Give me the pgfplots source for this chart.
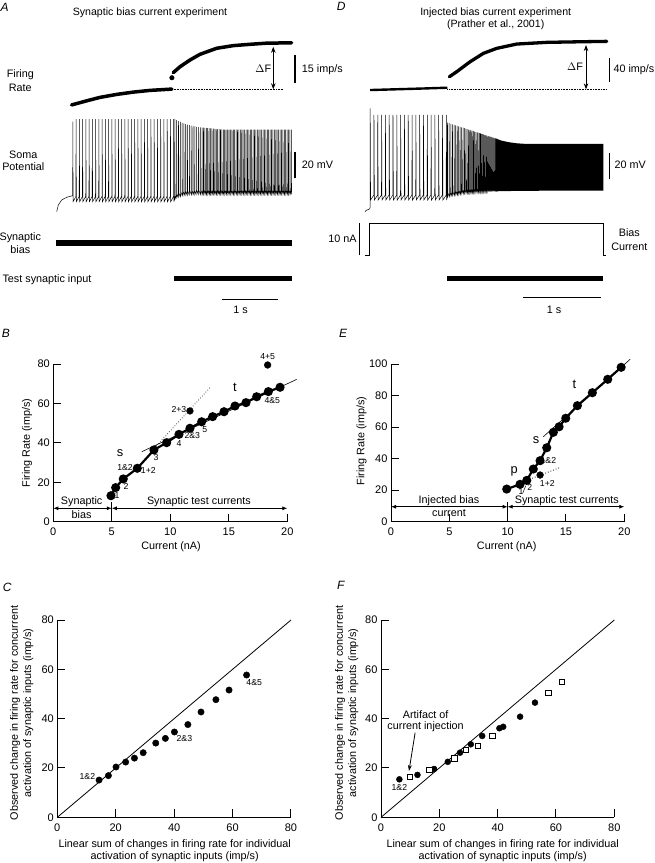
\documentclass[border=0pt]{standalone}
\usepackage{pgfplots}
\pgfplotsset{compat=1.18}
\usepackage{fontspec}
\setmainfont{Liberation Sans}
\usetikzlibrary{arrows.meta}
\newcommand{\fs}[1]{\fontsize{#1}{#1}\selectfont}
\pgfplotsset{
 trace/.style={hide axis, scale only axis, clip=false, anchor=south west},
 panel/.style={scale only axis, anchor=south west, axis lines*=left, tick align=inside,
   major tick length=8pt, axis line style={line width=1pt},
   tick style={line width=1pt, black},
   tick label style={font=\fs{11}}, xticklabel style={yshift=-3pt},
   /pgf/number format/assume math mode=true, clip=false},
}
\begin{document}
\begin{tikzpicture}
\path[use as bounding box] (0,0) rectangle (654pt,-863pt);

% ================= A : firing rate =================
\begin{axis}[trace, at={(55.7pt,-126.1pt)}, width=238.1pt, height=103.9pt,
  xmin=-0.3, xmax=3.9, ymin=0, ymax=55]
\addplot[line width=3.5pt, line cap=round] coordinates {(-0.02,11.2)(0.25,13.4)(0.48,15.2)(0.78,16.8)(1.07,18.0)(1.36,18.9)(1.75,19.6)};
\addplot[only marks, mark=*, mark size=2.3pt] coordinates {(1.75,25.6)};
\addplot[line width=3.5pt, line cap=round] coordinates {(1.774,28.3)(1.892,31.4)(2.069,35.0)(2.245,38.0)(2.54,41.2)(2.832,42.6)(3.127,43.3)(3.42,43.9)(3.862,44.1)};
\addplot[densely dotted, line width=0.6pt] coordinates {(1.75,19.5)(3.709,19.5)};
\draw[{Stealth[length=6pt,width=4.5pt]}-{Stealth[length=6pt,width=4.5pt]}, line width=0.9pt] (axis cs:3.538,42.0) -- (axis cs:3.538,19.5);
\addplot[line width=1.1pt] coordinates {(3.921,22.6)(3.921,37.6)};
\end{axis}

% ================= A : soma potential =================
\begin{axis}[trace, at={(55.7pt,-235pt)}, width=238.1pt, height=133.3pt,
  xmin=-0.3, xmax=3.9, ymin=-80, ymax=20]
\addplot[line width=0.5pt] coordinates {
(-0.282,-62.5)(-0.254,-57.5)(-0.194,-53.7)(-0.106,-51.7)(-0.018,-50.7)
(0,-50.5)(0.002,5)(0.007,-55)
(0.057,-51)(0.059,7)(0.064,-55)
(0.115,-51)(0.117,7)(0.122,-55)
(0.172,-51)(0.174,7)(0.179,-55)
(0.230,-51)(0.232,7)(0.237,-55)
(0.287,-51)(0.289,7)(0.294,-55)
(0.344,-51)(0.346,7)(0.351,-55)
(0.402,-51)(0.404,7)(0.409,-55)
(0.459,-51)(0.461,7)(0.466,-55)
(0.517,-51)(0.519,7)(0.524,-55)
(0.574,-51)(0.576,7)(0.581,-55)
(0.631,-51)(0.633,7)(0.638,-55)
(0.689,-51)(0.691,7)(0.696,-55)
(0.746,-51)(0.748,7)(0.753,-55)
(0.804,-51)(0.806,7)(0.811,-55)
(0.861,-51)(0.863,7)(0.868,-55)
(0.918,-51)(0.920,7)(0.925,-55)
(0.976,-51)(0.978,7)(0.983,-55)
(1.033,-51)(1.035,7)(1.040,-55)
(1.091,-51)(1.093,7)(1.098,-55)
(1.148,-51)(1.150,7)(1.155,-55)
(1.205,-51)(1.207,7)(1.212,-55)
(1.263,-51)(1.265,7)(1.270,-55)
(1.320,-51)(1.322,7)(1.327,-55)
(1.378,-51)(1.380,7)(1.385,-55)
(1.435,-51)(1.437,7)(1.442,-55)
(1.492,-51)(1.494,7)(1.499,-55)
(1.550,-51)(1.552,7)(1.557,-55)
(1.607,-51)(1.609,7)(1.614,-55)
(1.665,-51)(1.667,7)(1.672,-55)
(1.722,-51)(1.724,7)(1.729,-55)
(1.779,-51)(1.781,7)(1.786,-55)
(1.800,-52)(1.802,7)(1.805,-53)
(1.832,-50)(1.834,6.2)(1.837,-52)
(1.864,-49)(1.866,5.5)(1.869,-51.5)
(1.896,-48.5)(1.898,4.8)(1.901,-51)
(1.928,-48)(1.930,4.2)(1.933,-50.5)
(1.960,-47.5)(1.962,3.7)(1.965,-50.3)
(1.992,-47.3)(1.994,3.2)(1.997,-50)
(2.024,-47)(2.026,2.8)(2.029,-50)
(2.056,-47)(2.058,2.4)(2.061,-49.8)
(2.088,-47)(2.090,2.1)(2.093,-49.8)
(2.120,-46.8)(2.122,1.8)(2.125,-49.6)
(2.152,-46.8)(2.154,1.5)(2.157,-49.6)
(2.184,-46.6)(2.186,1.2)(2.189,-49.5)
(2.216,-46.5)(2.218,1.0)(2.221,-49.5)
(2.248,-46.5)(2.250,0.8)(2.253,-49.5)
(2.280,-46.5)(2.282,0.6)(2.285,-49.5)
(2.305,-46.5)(2.307,0.5)(2.310,-49.5)
(2.330,-46.5)(2.332,0.4)(2.335,-49.5)
(2.355,-46.5)(2.357,0.3)(2.360,-49.5)
(2.380,-46.5)(2.382,0.2)(2.385,-49.5)
(2.405,-46.5)(2.407,0.1)(2.410,-49.5)
(2.430,-46.5)(2.432,0)(2.435,-49.5)
(2.455,-46.5)(2.457,-0.1)(2.460,-49.5)
(2.480,-46.5)(2.482,-0.2)(2.485,-49.5)
(2.505,-46.5)(2.507,-0.3)(2.510,-49.5)
(2.530,-46.5)(2.532,-0.4)(2.535,-49.5)
(2.555,-46.5)(2.557,-0.5)(2.560,-49.5)
(2.580,-46.5)(2.582,-0.6)(2.585,-49.5)
(2.605,-46.5)(2.607,-0.7)(2.610,-49.5)
(2.630,-46.5)(2.632,-0.8)(2.635,-49.5)
(2.655,-46.5)(2.657,-0.9)(2.660,-49.5)
(2.680,-46.5)(2.682,-1)(2.685,-49.5)
(2.705,-46.5)(2.707,-1)(2.710,-49.5)
(2.730,-46.5)(2.732,-1)(2.735,-49.5)
(2.755,-46.5)(2.757,-1)(2.760,-49.5)
(2.780,-46.5)(2.782,-1)(2.785,-49.5)
(2.805,-46.5)(2.807,-1)(2.810,-49.5)
(2.830,-46.5)(2.832,-1)(2.835,-49.5)
(2.855,-46.5)(2.857,-1)(2.860,-49.5)
(2.880,-46.5)(2.882,-1)(2.885,-49.5)
(2.905,-46.5)(2.907,-1)(2.910,-49.5)
(2.930,-46.5)(2.932,-1)(2.935,-49.5)
(2.955,-46.5)(2.957,-1)(2.960,-49.5)
(2.980,-46.5)(2.982,-1)(2.985,-49.5)
(3.005,-46.5)(3.007,-1)(3.010,-49.5)
(3.030,-46.5)(3.032,-1)(3.035,-49.5)
(3.055,-46.5)(3.057,-1)(3.060,-49.5)
(3.080,-46.5)(3.082,-1)(3.085,-49.5)
(3.105,-46.5)(3.107,-1)(3.110,-49.5)
(3.130,-46.5)(3.132,-1)(3.135,-49.5)
(3.155,-46.5)(3.157,-1)(3.160,-49.5)
(3.180,-46.5)(3.182,-1)(3.185,-49.5)
(3.205,-46.5)(3.207,-1)(3.210,-49.5)
(3.230,-46.5)(3.232,-1)(3.235,-49.5)
(3.255,-46.5)(3.257,-1)(3.260,-49.5)
(3.280,-46.5)(3.282,-1)(3.285,-49.5)
(3.305,-46.5)(3.307,-1)(3.310,-49.5)
(3.330,-46.5)(3.332,-1)(3.335,-49.5)
(3.355,-46.5)(3.357,-1)(3.360,-49.5)
(3.380,-46.5)(3.382,-1)(3.385,-49.5)
(3.405,-46.5)(3.407,-1)(3.410,-49.5)
(3.430,-46.5)(3.432,-1)(3.435,-49.5)
(3.455,-46.5)(3.457,-1)(3.460,-49.5)
(3.480,-46.5)(3.482,-1)(3.485,-49.5)
(3.505,-46.5)(3.507,-1)(3.510,-49.5)
(3.530,-46.5)(3.532,-1)(3.535,-49.5)
(3.555,-46.5)(3.557,-1)(3.560,-49.5)
(3.580,-46.5)(3.582,-1)(3.585,-49.5)
(3.605,-46.5)(3.607,-1)(3.610,-49.5)
(3.630,-46.5)(3.632,-1)(3.635,-49.5)
(3.655,-46.5)(3.657,-1)(3.660,-49.5)
(3.680,-46.5)(3.682,-1)(3.685,-49.5)
(3.705,-46.5)(3.707,-1)(3.710,-49.5)
(3.730,-46.5)(3.732,-1)(3.735,-49.5)
(3.755,-46.5)(3.757,-1)(3.760,-49.5)
(3.780,-46.5)(3.782,-1)(3.785,-49.5)
(3.805,-46.5)(3.807,-1)(3.810,-49.5)
(3.830,-46.5)(3.832,-1)(3.835,-49.5)
(3.855,-46.5)(3.857,-1)(3.860,-49.5)
};
\addplot[line width=1.1pt] coordinates {(3.921,-37.5)(3.921,-17.5)};
\end{axis}

% ================= A : stimulus bars =================
\begin{axis}[trace, at={(55.7pt,-300pt)}, width=238.1pt, height=70pt,
  xmin=-0.3, xmax=3.9, ymin=0, ymax=1]
\addplot[line width=6pt] coordinates {(-0.295,0.814)(3.862,0.814)};
\addplot[line width=5.5pt] coordinates {(1.787,0.307)(3.862,0.307)};
\addplot[line width=0.8pt] coordinates {(2.628,0.01)(3.626,0.01)};
\end{axis}

% ================= D : firing rate =================
\begin{axis}[trace, at={(362.3pt,-101pt)}, width=255.1pt, height=81.62pt,
  xmin=-0.1, xmax=3.2, ymin=0, ymax=140]
\addplot[line width=2.4pt] coordinates {(0,18.8)(0.388,20.3)(0.7,21.5)(1.0,22.8)};
\addplot[line width=3.3pt, line cap=round] coordinates {(1.026,41.6)(1.121,50.2)(1.294,67.3)(1.466,81.7)(1.639,90.3)(1.898,97.7)(2.286,100.6)(2.717,101.6)(3.062,102.3)};
\addplot[densely dotted, line width=0.6pt] coordinates {(1.0,20)(3.053,20)};
\draw[{Stealth[length=6pt,width=4.5pt]}-{Stealth[length=6pt,width=4.5pt]}, line width=0.9pt] (axis cs:2.794,96) -- (axis cs:2.794,20);
\addplot[line width=1.1pt] coordinates {(3.096,33)(3.096,73)};
\end{axis}

% ================= D : soma potential =================
\begin{axis}[trace, at={(362.3pt,-232.5pt)}, width=255.1pt, height=130pt,
  xmin=-0.1, xmax=3.2, ymin=-80, ymax=20]
\addplot[line width=0.5pt] coordinates {
(-0.065,-64)(-0.05,-63)(-0.03,-62.5)(-0.005,-61.8)
(0,-61)(0.002,15.5)(0.007,-55)
(0.049,-51.2)(0.051,10.4)(0.056,-55)
(0.098,-51.2)(0.100,10.4)(0.105,-55)
(0.148,-51.2)(0.150,10.4)(0.155,-55)
(0.197,-51.2)(0.199,10.4)(0.204,-55)
(0.246,-51.2)(0.248,10.4)(0.253,-55)
(0.295,-51.2)(0.297,10.4)(0.302,-55)
(0.345,-51.2)(0.347,10.4)(0.352,-55)
(0.394,-51.2)(0.396,10.4)(0.401,-55)
(0.443,-51.2)(0.445,10.4)(0.450,-55)
(0.492,-51.2)(0.494,10.4)(0.499,-55)
(0.542,-51.2)(0.544,10.4)(0.549,-55)
(0.591,-51.2)(0.593,10.4)(0.598,-55)
(0.640,-51.2)(0.642,10.4)(0.647,-55)
(0.689,-51.2)(0.691,10.4)(0.696,-55)
(0.739,-51.2)(0.741,10.4)(0.746,-55)
(0.788,-51.2)(0.790,10.4)(0.795,-55)
(0.837,-51.2)(0.839,10.4)(0.844,-55)
(0.886,-51.2)(0.888,10.4)(0.893,-55)
(0.936,-51.2)(0.938,10.4)(0.943,-55)
(0.985,-51.2)(0.987,10.4)(0.992,-55)
(1.000,-50)(1.002,4.5)(1.005,-52.5)
(1.022,-49.7)(1.024,4.1)(1.027,-52.2)
(1.044,-49.4)(1.046,3.6)(1.049,-51.9)
(1.065,-49.1)(1.067,3.2)(1.070,-51.6)
(1.086,-48.9)(1.088,2.8)(1.091,-51.4)
(1.106,-48.6)(1.108,2.4)(1.111,-51.1)
(1.126,-48.4)(1.128,2.0)(1.131,-50.9)
(1.145,-48.2)(1.147,1.7)(1.150,-50.7)
(1.164,-48)(1.166,1.3)(1.169,-50.5)
(1.183,-47.8)(1.185,0.9)(1.188,-50.3)
(1.201,-47.7)(1.203,0.6)(1.206,-50.2)
(1.219,-47.5)(1.221,0.2)(1.224,-50)
(1.237,-47.4)(1.239,-0.1)(1.242,-49.9)
(1.254,-47.3)(1.256,-0.5)(1.259,-49.8)
(1.271,-47.1)(1.273,-0.8)(1.276,-49.6)
(1.288,-47)(1.290,-1.1)(1.293,-49.5)
(1.304,-46.9)(1.306,-1.4)(1.309,-49.4)
(1.320,-46.8)(1.322,-1.7)(1.325,-49.3)
(1.336,-46.8)(1.338,-2.1)(1.341,-49.3)
(1.352,-46.7)(1.354,-2.4)(1.357,-49.2)
(1.367,-46.6)(1.369,-2.7)(1.372,-49.1)
(1.382,-46.5)(1.384,-3.0)(1.387,-49)
(1.397,-46.5)(1.399,-3.2)(1.402,-49)
(1.412,-46.4)(1.414,-3.5)(1.417,-48.9)
(1.427,-46.4)(1.429,-3.8)(1.432,-48.9)
(1.441,-46.3)(1.443,-4.1)(1.446,-48.8)
(1.455,-46.3)(1.457,-4.4)(1.460,-48.8)
(1.469,-46.2)(1.471,-4.6)(1.474,-48.7)
(1.483,-46.2)(1.485,-4.9)(1.488,-48.7)
(1.497,-46.1)(1.499,-5.2)(1.502,-48.6)
(1.511,-46.1)(1.513,-5.5)(1.516,-48.6)
(1.525,-46.1)(1.527,-5.7)(1.530,-48.6)
(1.538,-46)(1.540,-6.0)(1.543,-48.5)
(1.551,-46)(1.553,-6.2)(1.556,-48.5)
(1.564,-46)(1.566,-6.5)(1.569,-48.5)
(1.577,-45.9)(1.579,-6.8)(1.582,-48.4)
(1.590,-45.9)(1.592,-7.0)(1.595,-48.4)
(1.603,-45.9)(1.605,-7.3)(1.608,-48.4)
(1.616,-45.9)(1.618,-7.5)(1.621,-48.4)
(1.629,-45.8)(1.631,-7.8)(1.634,-48.3)
(1.642,-45.8)(1.644,-8.0)(1.647,-48.3)
};
\addplot[fill=black, draw=none] coordinates {(1.62,-7.6)(1.7,-9.3)(1.8,-10.6)(1.9,-11.4)(2.0,-11.8)(2.1,-11.9)(3.018,-11.9)(3.018,-47.8)(2.0,-47.9)(1.8,-48.1)(1.62,-48.3)};
\addplot[line width=1.1pt] coordinates {(3.096,-39.1)(3.096,-19.1)};
\end{axis}

% ================= D : bias current and bars =================
\begin{axis}[trace, at={(362.3pt,-303pt)}, width=255.1pt, height=86.4pt,
  xmin=-0.1, xmax=3.2, ymin=-15, ymax=12]
\addplot[line width=0.6pt] coordinates {(-0.06,0)(-0.007,0)(-0.007,10)(3.018,10)(3.018,0)(3.053,0)};
\addplot[line width=1.1pt] coordinates {(-0.138,0)(-0.138,10)};
\addplot[line width=5pt] coordinates {(1.0,-7.34)(3.018,-7.34)};
\addplot[line width=0.8pt] coordinates {(1.983,-13.34)(2.983,-13.34)};
\end{axis}

% ================= B =================
\begin{axis}[panel, at={(53.3pt,-521.7pt)}, width=234pt, height=157.7pt,
  xmin=0, xmax=20, ymin=0, ymax=80, xtick={0,5,10,15,20}, ytick={0,20,40,60,80}]
\addplot[line width=0.6pt] coordinates {(7.56,35.5)(20.8,72.2)};
\addplot[dotted, line width=0.7pt] coordinates {(8.5,36.4)(13.45,68.4)};
\addplot[line width=2.2pt, mark=*, mark size=3.4pt] coordinates {(4.93,13.2)(5.33,17.3)(5.98,21.7)(7.18,27.1)(8.6,36.4)(9.69,40.1)(10.74,44.3)(11.68,47.4)(12.68,50.7)(13.62,53.3)(14.59,55.8)(15.53,58.7)(16.47,60.4)(17.38,63.4)(18.38,66)(19.38,68.2)};
\addplot[only marks, mark=*, mark size=3.4pt] coordinates {(11.68,56.2)(18.32,79.5)};
\draw[line width=0.8pt] (axis cs:5,0) -- (axis cs:5,10.1);
\draw[{Latex[length=5pt,width=4pt]}-{Latex[length=5pt,width=4pt]}, line width=0.8pt] (axis cs:0,6.8) -- (axis cs:5,6.8);
\draw[{Latex[length=5pt,width=4pt]}-{Latex[length=5pt,width=4pt]}, line width=0.8pt] (axis cs:5,6.8) -- (axis cs:20,6.8);
\node[font=\fs{10.8}] at (axis cs:2.42,10.2) {Synaptic};
\node[font=\fs{10.8}] at (axis cs:2.42,3.6) {bias};
\node[font=\fs{10.8}] at (axis cs:12.45,10.2) {Synaptic test currents};
\node[font=\fs{8.7}] at (axis cs:5.45,13.5) {1};
\node[font=\fs{8.7}] at (axis cs:6.21,18.1) {2};
\node[font=\fs{8.7}] at (axis cs:6.13,27.6) {1\&2};
\node[font=\fs{8.7}] at (axis cs:8.12,26.2) {1+2};
\node[font=\fs{8.7}] at (axis cs:8.78,32.7) {3};
\node[font=\fs{8.7}] at (axis cs:10.74,39.8) {4};
\node[font=\fs{8.7}] at (axis cs:11.88,43.5) {2\&3};
\node[font=\fs{8.7}] at (axis cs:12.94,46.9) {5};
\node[font=\fs{8.7}] at (axis cs:10.74,56.7) {2+3};
\node[font=\fs{8.7}] at (axis cs:18.72,61.4) {4\&5};
\node[font=\fs{8.7}] at (axis cs:18.32,83.7) {4+5};
\node[font=\fs{12.8}] at (axis cs:5.7,35.0) {s};
\node[font=\fs{12.8}] at (axis cs:15.53,68.2) {t};
\end{axis}

% ================= E =================
\begin{axis}[panel, at={(391pt,-521.7pt)}, width=233.3pt, height=157.7pt,
  xmin=0, xmax=20, ymin=0, ymax=100, xtick={0,5,10,15,20}, ytick={0,20,40,60,80,100}]
\addplot[line width=0.6pt] coordinates {(13.06,53.9)(20.5,103)};
\addplot[dotted, line width=0.8pt] coordinates {(11.21,25)(14.43,34.2)};
\addplot[line width=0.5pt] coordinates {(11.3,18.2)(11.55,22.8)};
\addplot[line width=2.2pt, mark=*, mark size=3.4pt] coordinates {(9.92,20.7)(11.06,23.7)(11.64,26.2)(12.2,33.4)(12.78,38.7)(13.35,46.9)(13.92,56.7)(14.41,60.2)(14.98,65.6)(15.98,73.6)(17.26,81.8)(18.58,90.3)(19.73,97.9)};
\addplot[only marks, mark=*, mark size=3.4pt] coordinates {(12.78,29.6)};
\draw[line width=0.8pt] (axis cs:10,0) -- (axis cs:10,12.7);
\draw[{Latex[length=5pt,width=4pt]}-{Latex[length=5pt,width=4pt]}, line width=0.8pt] (axis cs:0,9.5) -- (axis cs:10,9.5);
\draw[{Latex[length=5pt,width=4pt]}-{Latex[length=5pt,width=4pt]}, line width=0.8pt] (axis cs:10,9.5) -- (axis cs:20,9.5);
\node[font=\fs{10.8}] at (axis cs:4.97,13.6) {Injected bias};
\node[font=\fs{10.8}] at (axis cs:4.97,5.4) {current};
\node[font=\fs{10.8}] at (axis cs:15.07,13.6) {Synaptic test currents};
\node[font=\fs{8.7}] at (axis cs:11.15,19.3) {1};
\node[font=\fs{8.7}] at (axis cs:11.9,21.4) {2};
\node[font=\fs{8.7}] at (axis cs:13.49,38.7) {1\&2};
\node[font=\fs{8.7}] at (axis cs:13.4,24.3) {1+2};
\node[font=\fs{12.8}] at (axis cs:10.57,32.2) {p};
\node[font=\fs{12.8}] at (axis cs:12.44,51.8) {s};
\node[font=\fs{12.8}] at (axis cs:15.72,87.2) {t};
\end{axis}

% ================= C =================
\begin{axis}[panel, at={(57.3pt,-817.3pt)}, width=233.7pt, height=197.3pt,
  xmin=0, xmax=80, ymin=0, ymax=80, xtick={0,20,40,60,80}, ytick={0,20,40,60,80}]
\addplot[line width=0.8pt] coordinates {(0,0)(80,80)};
\addplot[only marks, mark=*, mark size=3.2pt] coordinates {(14.3,15.1)(17.5,16.9)(20.1,20.4)(23.4,22.4)(26.4,24.0)(29.4,26.2)(33.7,30.1)(37.0,32.0)(40.1,34.6)(44.7,37.6)(49.2,42.7)(54.3,47.7)(58.8,51.6)(64.8,57.7)};
\node[font=\fs{8.7}] at (axis cs:10.3,16.5) {1\&2};
\node[font=\fs{8.7}] at (axis cs:43.5,31.8) {2\&3};
\node[font=\fs{8.7}] at (axis cs:67.4,54.7) {4\&5};
\end{axis}

% ================= F =================
\begin{axis}[panel, at={(381pt,-817.3pt)}, width=233.3pt, height=197.3pt,
  xmin=0, xmax=80, ymin=0, ymax=80, xtick={0,20,40,60,80}, ytick={0,20,40,60,80}]
\addplot[line width=0.8pt] coordinates {(0,0)(80,80)};
\addplot[only marks, mark=*, mark size=3.0pt] coordinates {(6.3,15.4)(12.5,17.2)(18.2,19.6)(22.9,22.5)(27.1,26.2)(30.8,29.6)(34.7,33.0)(40.6,36.1)(41.9,36.7)(47.7,40.8)(52.8,46.5)};
\addplot[only marks, mark=square*, mark size=2.7pt, mark options={fill=white, draw=black, line width=0.6pt}] coordinates {(9.9,16.5)(16.6,19.2)(25.1,23.9)(29.0,27.3)(33.2,29.0)(38.2,33.0)(57.4,50.5)(62.0,55.0)};
\draw[-{Stealth[length=6pt,width=4pt]}, line width=0.8pt] (axis cs:11.7,34.3) -- (axis cs:9.6,18.8);
\node[font=\fs{8.7}] at (axis cs:6.3,12) {1\&2};
\node[font=\fs{10.8}] at (axis cs:15.3,41.5) {Artifact of};
\node[font=\fs{10.8}] at (axis cs:15.3,36.7) {current injection};
\end{axis}

% ================= free text =================
\begin{scope}[x=1pt, y=-1pt, every node/.style={inner sep=0pt}]
\node[font=\fs{12}\itshape, anchor=north west] at (0.5,2.7) {A};
\node[font=\fs{12}\itshape, anchor=north west] at (336.7,1.7) {D};
\node[font=\fs{12}\itshape, anchor=north west] at (1.7,329.3) {B};
\node[font=\fs{12}\itshape, anchor=north west] at (339,329) {E};
\node[font=\fs{12}\itshape, anchor=north west] at (2.7,582.7) {C};
\node[font=\fs{12}\itshape, anchor=north west] at (337,580.7) {F};
\node[font=\fs{10.6}] at (150,13) {Synaptic bias current experiment};
\node[font=\fs{10.6}] at (495.7,13) {Injected bias current experiment};
\node[font=\fs{10.6}] at (495.7,25) {(Prather et al., 2001)};
\node[font=\fs{10.8}] at (20.3,75) {Firing};
\node[font=\fs{10.8}] at (20.3,88.3) {Rate};
\node[font=\fs{10.8}] at (23.3,154.3) {Soma};
\node[font=\fs{10.8}] at (23.3,166.7) {Potential};
\node[font=\fs{10.8}] at (20.3,237.3) {Synaptic};
\node[font=\fs{10.8}] at (20.3,249.3) {bias};
\node[font=\fs{10.8}] at (47,279.3) {Test synaptic input};
\node[font=\fs{10.8}] at (240.7,310) {1 s};
\node[font=\fs{10.8}] at (263.3,68.3) {$\Delta$F};
\node[font=\fs{10.8}, anchor=west] at (301.7,70) {15 imp/s};
\node[font=\fs{10.8}, anchor=west] at (301.7,165) {20 mV};
\node[font=\fs{10.8}] at (575,66.7) {$\Delta$F};
\node[font=\fs{10.8}, anchor=west] at (613.3,70) {40 imp/s};
\node[font=\fs{10.8}, anchor=west] at (614.3,164.3) {20 mV};
\node[font=\fs{10.8}, anchor=east] at (356.7,238.3) {10 nA};
\node[font=\fs{10.8}] at (629.3,232.7) {Bias};
\node[font=\fs{10.8}] at (629.3,246.7) {Current};
\node[font=\fs{10.8}] at (554,310) {1 s};
\node[font=\fs{10.8}, rotate=90] at (27,443) {Firing Rate (imp/s)};
\node[font=\fs{10.8}] at (171,547) {Current (nA)};
\node[font=\fs{10.8}, rotate=90] at (361.7,441) {Firing Rate (imp/s)};
\node[font=\fs{10.8}] at (506.7,547) {Current (nA)};
\node[font=\fontsize{10.8}{13.3}\selectfont, rotate=90, align=center] at (21.7,713) {Observed change in firing rate for concurrent\\activation of synaptic inputs (imp/s)};
\node[font=\fontsize{10.8}{11.7}\selectfont, align=center] at (174.7,851) {Linear sum of changes in firing rate for individual\\activation of synaptic inputs (imp/s)};
\node[font=\fontsize{10.8}{13.3}\selectfont, rotate=90, align=center] at (346.7,713) {Observed change in firing rate for concurrent\\activation of synaptic inputs (imp/s)};
\node[font=\fontsize{10.8}{11.7}\selectfont, align=center] at (502.7,851) {Linear sum of changes in firing rate for individual\\activation of synaptic inputs (imp/s)};
\end{scope}
\end{tikzpicture}
\end{document}
